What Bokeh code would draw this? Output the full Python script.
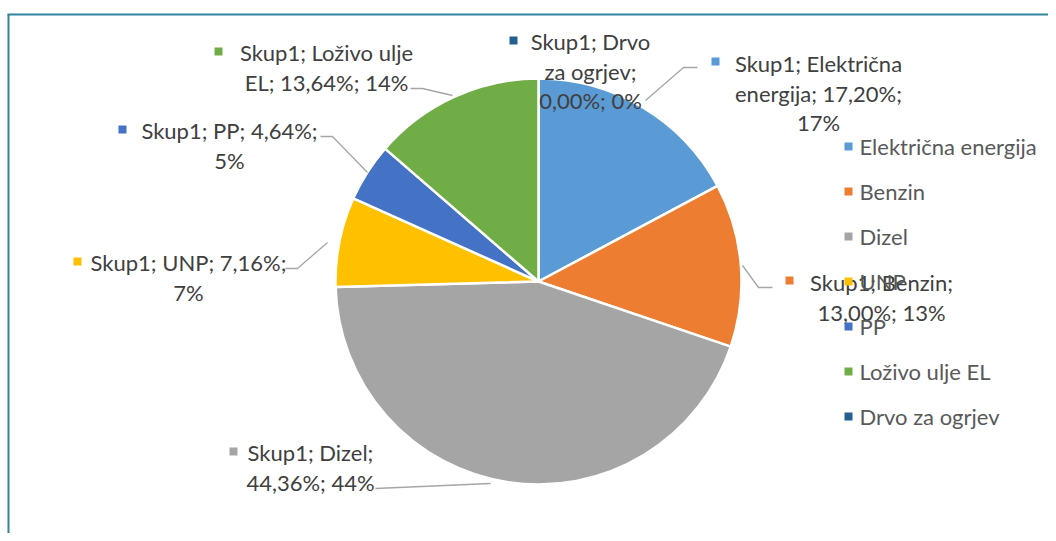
import math
import textwrap
from bokeh.plotting import figure
from bokeh.models import Range1d, ColumnDataSource
from bokeh.core.properties import value
from bokeh.embed import file_html
from bokeh.resources import INLINE

# ---- data ----
series_name = "Skup1"
categories = ["Električna energija", "Benzin", "Dizel", "UNP", "PP",
              "Loživo ulje EL", "Drvo za ogrjev"]
shares = [17.20, 13.00, 44.36, 7.16, 4.64, 13.64, 0.00]

# ---- styles / layout ----
colors = ["#5B9BD5", "#ED7D31", "#A5A5A5", "#FFC000", "#4472C4", "#70AD47", "#255E91"]
FONT = "Lato"
FS = "22px"
W, H = 1048, 533
OX, OY = 0, 0  # page offset of the plot frame
CX, CY, R = 538, 281, 203

# label layout: (wrap width in chars, text centre x, first line y, marker x, marker y)
label_layout = {
    "Električna energija": (17, 818, 63, 715, 61),
    "Benzin": (14, 881, 282, 789, 280),
    "Dizel": (13, 310, 452, 233, 451),
    "UNP": (18, 188, 262, 77, 261),
    "PP": (17, 229, 130, 122, 129),
    "Loživo ulje EL": (18, 326, 52, 218, 51),
    "Drvo za ogrjev": (11, 590, 41, 513, 40),
}
leaders = {
    "Električna energija": [(645, 100), (683, 67), (697, 67)],
    "Benzin": [(742, 265), (758, 287), (772, 287)],
    "Dizel": [(490, 483), (375, 488)],
    "UNP": [(327, 242), (297, 268), (285, 268)],
    "PP": [(367, 172), (332, 136), (320, 136)],
    "Loživo ulje EL": [(452, 95), (422, 88), (410, 88)],
}
LINE_H = 29.5

p = figure(width=W, height=H, x_range=Range1d(OX, OX + W), y_range=Range1d(-(OY + H), -OY),
           output_backend="svg", toolbar_location=None, min_border=0)
p.axis.visible = False
p.grid.visible = False
p.outline_line_color = None
p.background_fill_color = "white"

# chart border (top and left visible)
p.line([7, OX + W + 8], [-14, -14], line_color="#31849B", line_width=2)
p.line([8, 8], [-14, -(OY + H + 8)], line_color="#31849B", line_width=2)

# pie (clockwise from 12 o'clock)
total = sum(shares)
cum = 0.0
rows = dict(cat=[], v=[], start=[], end=[], color=[])
for cat, s, col in zip(categories, shares, colors):
    a0 = math.pi / 2 - 2 * math.pi * (cum + s) / total
    a1 = math.pi / 2 - 2 * math.pi * cum / total
    cum += s
    if s <= 0:
        continue
    rows["cat"].append(cat)
    rows["v"].append(s)
    rows["start"].append(a0)
    rows["end"].append(a1)
    rows["color"].append(col)
src = ColumnDataSource(rows)
p.wedge(x=CX, y=-CY, radius=R, start_angle="start", end_angle="end", fill_color="color",
        line_color="white", line_width=2.5, source=src)

# leader lines
for cat, pts in leaders.items():
    p.line([q[0] for q in pts], [-q[1] for q in pts], line_color="#A6A6A6", line_width=1.3)

# data labels
def fmt(v):
    return f"{v:.2f}".replace(".", ",") + "%"

for cat, v, col in zip(categories, shares, colors):
    wrap, tx, ty, mx, my = label_layout[cat]
    full = f"{series_name}; {cat}; {fmt(v)}; {round(v)}%"
    lines = textwrap.wrap(full, width=wrap)
    ys = [-(ty + i * LINE_H) for i in range(len(lines))]
    p.text(x=[tx] * len(lines), y=ys, text=lines, text_align="center", text_baseline="middle",
           text_font=value(FONT), text_font_size=FS, text_color="#404040")
    p.scatter(x=[mx], y=[-my], marker="square", size=8, fill_color=col, line_color=None)

# legend
leg_y = [146 + 45 * i for i in range(len(categories))]
p.scatter(x=[848] * len(categories), y=[-y for y in leg_y], marker="square", size=8,
          fill_color=colors, line_color=None)
p.text(x=[859] * len(categories), y=[-y for y in leg_y], text=categories, text_align="left",
       text_baseline="middle", text_font=value(FONT), text_font_size=FS, text_color="#595959")

open("out.html", "w").write(file_html(p, INLINE))
